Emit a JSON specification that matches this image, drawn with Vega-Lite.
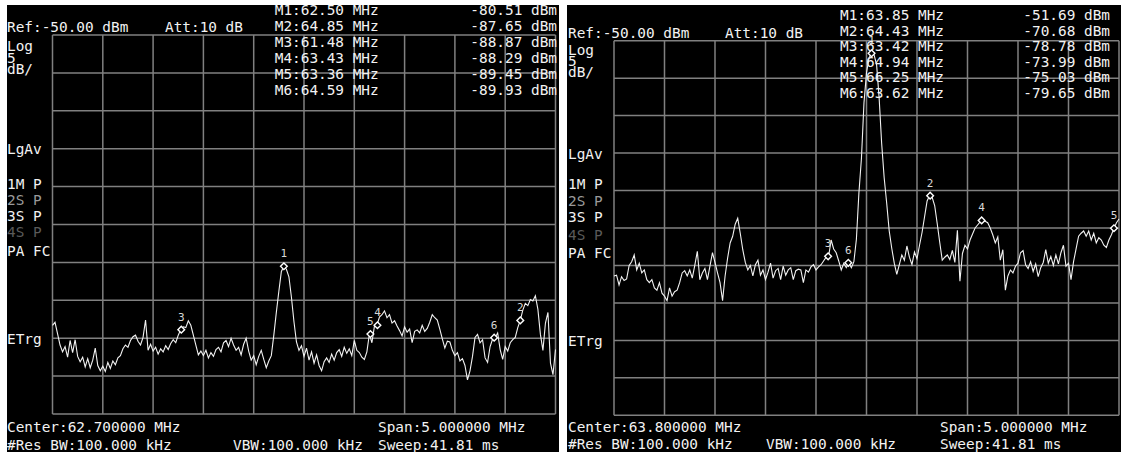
{
  "$schema": "https://vega.github.io/schema/vega-lite/v6.json",
  "background": "white",
  "padding": {"left": 7, "top": 2, "right": 0, "bottom": 0},
  "bounds": "flush",
  "spacing": 8,
  "config": {
    "view": {"stroke": null, "fill": "black"},
    "axis": {"disable": true},
    "text": {"font": "DejaVu Sans Mono", "fontSize": 14.4, "color": "#f2f2f2", "baseline": "middle", "align": "left"}
  },
  "datasets": {
    "gridD": [{"d": -50}, {"d": -55}, {"d": -60}, {"d": -65}, {"d": -70}, {"d": -75}, {"d": -80}, {"d": -85}, {"d": -90}, {"d": -95}, {"d": -100}],
    "leftGridF": [{"f": 60.2}, {"f": 60.7}, {"f": 61.2}, {"f": 61.7}, {"f": 62.2}, {"f": 62.7}, {"f": 63.2}, {"f": 63.7}, {"f": 64.2}, {"f": 64.7}, {"f": 65.2}],
    "rightGridF": [{"f": 61.3}, {"f": 61.8}, {"f": 62.3}, {"f": 62.8}, {"f": 63.3}, {"f": 63.8}, {"f": 64.3}, {"f": 64.8}, {"f": 65.3}, {"f": 65.8}, {"f": 66.3}],
    "leftMarkers": [
      {"id": 1, "f": 62.50, "d": -80.51},
      {"id": 2, "f": 64.85, "d": -87.65},
      {"id": 3, "f": 61.48, "d": -88.87},
      {"id": 4, "f": 63.43, "d": -88.29},
      {"id": 5, "f": 63.36, "d": -89.45},
      {"id": 6, "f": 64.59, "d": -89.93}
    ],
    "rightMarkers": [
      {"id": 1, "f": 63.85, "d": -51.69},
      {"id": 2, "f": 64.43, "d": -70.68},
      {"id": 3, "f": 63.42, "d": -78.78},
      {"id": 4, "f": 64.94, "d": -73.99},
      {"id": 5, "f": 66.25, "d": -75.03},
      {"id": 6, "f": 63.62, "d": -79.65}
    ],
    "leftTrace": [
      {"f":60.2,"d":-88.3},{"f":60.225,"d":-87.9},{"f":60.25,"d":-89.4},{"f":60.275,"d":-90.9},
      {"f":60.3,"d":-91.8},{"f":60.325,"d":-91.1},{"f":60.35,"d":-92.5},{"f":60.375,"d":-90.3},
      {"f":60.4,"d":-91.9},{"f":60.425,"d":-90.2},{"f":60.45,"d":-92.4},{"f":60.475,"d":-93.1},
      {"f":60.5,"d":-92.5},{"f":60.525,"d":-93.8},{"f":60.55,"d":-92.7},{"f":60.575,"d":-93.9},
      {"f":60.6,"d":-92.9},{"f":60.625,"d":-91.3},{"f":60.65,"d":-93.6},{"f":60.675,"d":-94.3},
      {"f":60.7,"d":-93.7},{"f":60.725,"d":-94.4},{"f":60.75,"d":-93.2},{"f":60.775,"d":-94.0},
      {"f":60.8,"d":-93.0},{"f":60.825,"d":-93.5},{"f":60.85,"d":-92.6},{"f":60.875,"d":-92.3},
      {"f":60.9,"d":-91.4},{"f":60.925,"d":-90.9},{"f":60.95,"d":-91.2},{"f":60.975,"d":-90.3},
      {"f":61.0,"d":-89.8},{"f":61.025,"d":-89.6},{"f":61.05,"d":-90.4},{"f":61.075,"d":-90.9},
      {"f":61.1,"d":-89.9},{"f":61.125,"d":-87.6},{"f":61.15,"d":-91.6},{"f":61.175,"d":-90.8},
      {"f":61.2,"d":-91.7},{"f":61.225,"d":-91.2},{"f":61.25,"d":-92.1},{"f":61.275,"d":-91.4},
      {"f":61.3,"d":-91.8},{"f":61.325,"d":-91.0},{"f":61.35,"d":-91.5},{"f":61.375,"d":-90.7},
      {"f":61.4,"d":-90.2},{"f":61.425,"d":-90.6},{"f":61.45,"d":-89.6},{"f":61.475,"d":-88.87},
      {"f":61.5,"d":-88.5},{"f":61.525,"d":-88.6},{"f":61.55,"d":-87.7},{"f":61.575,"d":-88.3},
      {"f":61.6,"d":-89.6},{"f":61.625,"d":-90.9},{"f":61.65,"d":-92.2},{"f":61.675,"d":-91.7},
      {"f":61.7,"d":-92.3},{"f":61.725,"d":-91.6},{"f":61.75,"d":-92.6},{"f":61.775,"d":-91.9},
      {"f":61.8,"d":-92.4},{"f":61.825,"d":-91.5},{"f":61.85,"d":-91.2},{"f":61.875,"d":-91.8},
      {"f":61.9,"d":-90.6},{"f":61.925,"d":-90.3},{"f":61.95,"d":-91.1},{"f":61.975,"d":-90.0},
      {"f":62.0,"d":-90.9},{"f":62.025,"d":-91.6},{"f":62.05,"d":-91.2},{"f":62.075,"d":-92.2},
      {"f":62.1,"d":-90.8},{"f":62.125,"d":-90.0},{"f":62.15,"d":-91.7},{"f":62.175,"d":-92.9},
      {"f":62.2,"d":-92.3},{"f":62.225,"d":-93.5},{"f":62.25,"d":-92.4},{"f":62.275,"d":-91.6},
      {"f":62.3,"d":-92.8},{"f":62.325,"d":-93.9},{"f":62.35,"d":-93.0},{"f":62.375,"d":-92.3},
      {"f":62.4,"d":-89.6},{"f":62.425,"d":-86.6},{"f":62.45,"d":-83.8},{"f":62.475,"d":-81.2},
      {"f":62.5,"d":-80.51},{"f":62.525,"d":-80.9},{"f":62.55,"d":-81.9},{"f":62.575,"d":-84.6},
      {"f":62.6,"d":-87.8},{"f":62.625,"d":-90.5},{"f":62.65,"d":-91.6},{"f":62.675,"d":-91.0},
      {"f":62.7,"d":-92.4},{"f":62.725,"d":-91.3},{"f":62.75,"d":-92.9},{"f":62.775,"d":-91.8},
      {"f":62.8,"d":-93.3},{"f":62.825,"d":-92.2},{"f":62.85,"d":-93.6},{"f":62.875,"d":-94.3},
      {"f":62.9,"d":-93.1},{"f":62.925,"d":-92.6},{"f":62.95,"d":-93.2},{"f":62.975,"d":-92.1},
      {"f":63.0,"d":-92.9},{"f":63.025,"d":-91.9},{"f":63.05,"d":-91.5},{"f":63.075,"d":-92.4},
      {"f":63.1,"d":-91.2},{"f":63.125,"d":-92.0},{"f":63.15,"d":-91.4},{"f":63.175,"d":-92.3},
      {"f":63.2,"d":-90.3},{"f":63.225,"d":-91.6},{"f":63.25,"d":-91.9},{"f":63.275,"d":-92.5},
      {"f":63.3,"d":-92.8},{"f":63.325,"d":-91.8},{"f":63.35,"d":-89.45},{"f":63.375,"d":-90.6},
      {"f":63.4,"d":-88.4},{"f":63.425,"d":-88.29},{"f":63.45,"d":-87.2},{"f":63.475,"d":-86.9},
      {"f":63.5,"d":-86.4},{"f":63.525,"d":-87.3},{"f":63.55,"d":-86.9},{"f":63.575,"d":-88.0},
      {"f":63.6,"d":-87.7},{"f":63.625,"d":-88.4},{"f":63.65,"d":-89.0},{"f":63.675,"d":-89.7},
      {"f":63.7,"d":-88.5},{"f":63.725,"d":-89.2},{"f":63.75,"d":-88.8},{"f":63.775,"d":-90.6},
      {"f":63.8,"d":-89.1},{"f":63.825,"d":-88.9},{"f":63.85,"d":-89.3},{"f":63.875,"d":-88.3},
      {"f":63.9,"d":-89.1},{"f":63.925,"d":-88.7},{"f":63.95,"d":-87.9},{"f":63.975,"d":-86.9},
      {"f":64.0,"d":-87.3},{"f":64.025,"d":-87.6},{"f":64.05,"d":-88.8},{"f":64.075,"d":-90.1},
      {"f":64.1,"d":-91.3},{"f":64.125,"d":-90.4},{"f":64.15,"d":-90.5},{"f":64.175,"d":-91.6},
      {"f":64.2,"d":-92.3},{"f":64.225,"d":-91.9},{"f":64.25,"d":-93.0},{"f":64.275,"d":-92.7},
      {"f":64.3,"d":-93.6},{"f":64.325,"d":-95.5},{"f":64.35,"d":-94.3},{"f":64.375,"d":-92.4},
      {"f":64.4,"d":-89.9},{"f":64.425,"d":-89.5},{"f":64.45,"d":-90.6},{"f":64.475,"d":-90.2},
      {"f":64.5,"d":-92.6},{"f":64.525,"d":-93.2},{"f":64.55,"d":-91.1},{"f":64.575,"d":-90.1},
      {"f":64.6,"d":-89.93},{"f":64.625,"d":-89.3},{"f":64.65,"d":-91.5},{"f":64.675,"d":-92.8},
      {"f":64.7,"d":-91.1},{"f":64.725,"d":-91.7},{"f":64.75,"d":-90.6},{"f":64.775,"d":-90.2},
      {"f":64.8,"d":-89.9},{"f":64.825,"d":-88.6},{"f":64.85,"d":-87.65},{"f":64.875,"d":-86.3},
      {"f":64.9,"d":-85.4},{"f":64.925,"d":-85.7},{"f":64.95,"d":-84.9},{"f":64.975,"d":-85.1},
      {"f":65.0,"d":-84.4},{"f":65.025,"d":-86.2},{"f":65.05,"d":-89.5},{"f":65.075,"d":-91.6},
      {"f":65.1,"d":-88.0},{"f":65.125,"d":-86.6},{"f":65.15,"d":-93.3},{"f":65.175,"d":-94.8},
      {"f":65.2,"d":-91.5}
    ],
    "rightTrace": [
      {"f":61.3,"d":-81.4},{"f":61.325,"d":-81.3},{"f":61.35,"d":-82.6},{"f":61.375,"d":-81.5},
      {"f":61.4,"d":-82.0},{"f":61.425,"d":-81.8},{"f":61.45,"d":-80.0},{"f":61.475,"d":-79.5},
      {"f":61.5,"d":-78.6},{"f":61.525,"d":-80.6},{"f":61.55,"d":-79.7},{"f":61.575,"d":-81.0},
      {"f":61.6,"d":-80.6},{"f":61.625,"d":-81.9},{"f":61.65,"d":-82.3},{"f":61.675,"d":-81.9},
      {"f":61.7,"d":-83.0},{"f":61.725,"d":-83.3},{"f":61.75,"d":-82.3},{"f":61.775,"d":-83.7},
      {"f":61.8,"d":-84.1},{"f":61.825,"d":-84.7},{"f":61.85,"d":-83.0},{"f":61.875,"d":-84.1},
      {"f":61.9,"d":-83.5},{"f":61.925,"d":-83.3},{"f":61.95,"d":-82.3},{"f":61.975,"d":-81.0},
      {"f":62.0,"d":-80.7},{"f":62.025,"d":-81.4},{"f":62.05,"d":-80.6},{"f":62.075,"d":-81.7},
      {"f":62.1,"d":-80.0},{"f":62.125,"d":-78.1},{"f":62.15,"d":-81.9},{"f":62.175,"d":-81.0},
      {"f":62.2,"d":-80.4},{"f":62.225,"d":-81.9},{"f":62.25,"d":-80.1},{"f":62.275,"d":-78.3},
      {"f":62.3,"d":-79.6},{"f":62.325,"d":-81.0},{"f":62.35,"d":-82.3},{"f":62.375,"d":-84.7},
      {"f":62.4,"d":-81.4},{"f":62.425,"d":-79.0},{"f":62.45,"d":-77.0},{"f":62.475,"d":-76.1},
      {"f":62.5,"d":-74.5},{"f":62.525,"d":-73.7},{"f":62.55,"d":-75.7},{"f":62.575,"d":-77.9},
      {"f":62.6,"d":-79.6},{"f":62.625,"d":-80.6},{"f":62.65,"d":-80.0},{"f":62.675,"d":-81.4},
      {"f":62.7,"d":-79.9},{"f":62.725,"d":-79.3},{"f":62.75,"d":-81.3},{"f":62.775,"d":-80.6},
      {"f":62.8,"d":-81.9},{"f":62.825,"d":-80.9},{"f":62.85,"d":-79.7},{"f":62.875,"d":-81.7},
      {"f":62.9,"d":-80.7},{"f":62.925,"d":-80.4},{"f":62.95,"d":-81.9},{"f":62.975,"d":-80.1},
      {"f":63.0,"d":-81.3},{"f":63.025,"d":-80.6},{"f":63.05,"d":-80.3},{"f":63.075,"d":-81.9},
      {"f":63.1,"d":-80.7},{"f":63.125,"d":-80.5},{"f":63.15,"d":-80.6},{"f":63.175,"d":-82.3},
      {"f":63.2,"d":-80.6},{"f":63.225,"d":-80.9},{"f":63.25,"d":-80.2},{"f":63.275,"d":-79.9},
      {"f":63.3,"d":-80.6},{"f":63.325,"d":-80.2},{"f":63.35,"d":-79.9},{"f":63.375,"d":-79.4},
      {"f":63.4,"d":-78.9},{"f":63.425,"d":-78.78},{"f":63.45,"d":-76.6},{"f":63.475,"d":-77.8},
      {"f":63.5,"d":-78.3},{"f":63.525,"d":-79.4},{"f":63.55,"d":-80.6},{"f":63.575,"d":-79.7},
      {"f":63.6,"d":-80.3},{"f":63.625,"d":-79.65},{"f":63.65,"d":-80.3},{"f":63.675,"d":-79.5},
      {"f":63.7,"d":-76.5},{"f":63.725,"d":-70.3},{"f":63.75,"d":-65.7},{"f":63.775,"d":-58.3},
      {"f":63.8,"d":-54.3},{"f":63.825,"d":-52.3},{"f":63.85,"d":-51.69},{"f":63.875,"d":-51.9},
      {"f":63.9,"d":-53.2},{"f":63.925,"d":-57.6},{"f":63.95,"d":-63.7},{"f":63.975,"d":-68.3},
      {"f":64.0,"d":-71.7},{"f":64.025,"d":-75.4},{"f":64.05,"d":-77.7},{"f":64.075,"d":-79.7},
      {"f":64.1,"d":-81.2},{"f":64.125,"d":-79.9},{"f":64.15,"d":-78.6},{"f":64.175,"d":-79.3},
      {"f":64.2,"d":-77.4},{"f":64.225,"d":-78.9},{"f":64.25,"d":-79.9},{"f":64.275,"d":-78.2},
      {"f":64.3,"d":-79.1},{"f":64.325,"d":-77.3},{"f":64.35,"d":-75.6},{"f":64.375,"d":-73.5},
      {"f":64.4,"d":-71.4},{"f":64.425,"d":-70.68},{"f":64.45,"d":-70.9},{"f":64.475,"d":-72.0},
      {"f":64.5,"d":-74.4},{"f":64.525,"d":-76.9},{"f":64.55,"d":-79.3},{"f":64.575,"d":-78.9},
      {"f":64.6,"d":-78.6},{"f":64.625,"d":-79.2},{"f":64.65,"d":-78.0},{"f":64.675,"d":-79.6},
      {"f":64.7,"d":-75.3},{"f":64.725,"d":-82.1},{"f":64.75,"d":-78.4},{"f":64.775,"d":-77.3},
      {"f":64.8,"d":-77.8},{"f":64.825,"d":-76.6},{"f":64.85,"d":-75.8},{"f":64.875,"d":-75.0},
      {"f":64.9,"d":-74.6},{"f":64.925,"d":-74.2},{"f":64.95,"d":-73.99},{"f":64.975,"d":-74.1},
      {"f":65.0,"d":-74.3},{"f":65.025,"d":-75.0},{"f":65.05,"d":-75.9},{"f":65.075,"d":-77.0},
      {"f":65.1,"d":-76.2},{"f":65.125,"d":-79.3},{"f":65.15,"d":-77.9},{"f":65.175,"d":-83.3},
      {"f":65.2,"d":-81.4},{"f":65.225,"d":-80.6},{"f":65.25,"d":-81.0},{"f":65.275,"d":-80.1},
      {"f":65.3,"d":-79.7},{"f":65.325,"d":-78.3},{"f":65.35,"d":-78.0},{"f":65.375,"d":-79.9},
      {"f":65.4,"d":-80.4},{"f":65.425,"d":-79.5},{"f":65.45,"d":-80.8},{"f":65.475,"d":-79.8},
      {"f":65.5,"d":-81.5},{"f":65.525,"d":-80.3},{"f":65.55,"d":-79.6},{"f":65.575,"d":-77.9},
      {"f":65.6,"d":-79.7},{"f":65.625,"d":-78.8},{"f":65.65,"d":-80.0},{"f":65.675,"d":-78.6},
      {"f":65.7,"d":-79.8},{"f":65.725,"d":-78.3},{"f":65.75,"d":-77.3},{"f":65.775,"d":-80.1},
      {"f":65.8,"d":-79.7},{"f":65.825,"d":-81.9},{"f":65.85,"d":-79.5},{"f":65.875,"d":-77.8},
      {"f":65.9,"d":-76.1},{"f":65.925,"d":-75.7},{"f":65.95,"d":-75.4},{"f":65.975,"d":-76.1},
      {"f":66.0,"d":-75.4},{"f":66.025,"d":-76.6},{"f":66.05,"d":-75.7},{"f":66.075,"d":-77.0},
      {"f":66.1,"d":-76.3},{"f":66.125,"d":-76.6},{"f":66.15,"d":-77.3},{"f":66.175,"d":-77.6},
      {"f":66.2,"d":-76.6},{"f":66.225,"d":-75.9},{"f":66.25,"d":-75.03},{"f":66.275,"d":-74.3},
      {"f":66.3,"d":-73.8}
    ]
  },
  "hconcat": [
    {
      "width": 552,
      "height": 450,
      "view": {"fill": "black", "stroke": null},
      "resolve": {"scale": {"y": "independent"}},
      "layer": [
        {
          "data": {"values": [{}]},
          "layer": [
            {
              "data": {"name": "leftGridF"},
              "mark": {"type": "rule", "color": "#808080", "strokeWidth": 1.5},
              "encoding": {
                "x": {"field": "f", "type": "quantitative", "scale": {"domain": [59.7477, 65.2348], "nice": false, "zero": false}, "axis": null},
                "y": {"datum": -50, "type": "quantitative", "scale": {"domain": [-105.41, -46.04], "nice": false, "zero": false}, "axis": null},
                "y2": {"datum": -100}
              }
            },
            {
              "data": {"name": "gridD"},
              "mark": {"type": "rule", "color": "#808080", "strokeWidth": 1.5},
              "encoding": {
                "y": {"field": "d", "type": "quantitative"},
                "x": {"datum": 60.2},
                "x2": {"datum": 65.2}
              }
            },
            {
              "data": {"name": "leftTrace"},
              "mark": {"type": "line", "color": "#f2f2f2", "strokeWidth": 1.1},
              "encoding": {
                "x": {"field": "f", "type": "quantitative"},
                "y": {"field": "d", "type": "quantitative"}
              }
            },
            {
              "data": {"name": "leftMarkers"},
              "mark": {"type": "point", "shape": "diamond", "size": 45, "filled": true, "fill": "black", "stroke": "#ffffff", "strokeWidth": 1.4, "opacity": 1},
              "encoding": {
                "x": {"field": "f", "type": "quantitative"},
                "y": {"field": "d", "type": "quantitative"}
              }
            },
            {
              "data": {"name": "leftMarkers"},
              "mark": {"type": "text", "fontSize": 11, "align": "center", "dy": -12, "color": "#d8d8d8"},
              "encoding": {
                "x": {"field": "f", "type": "quantitative"},
                "y": {"field": "d", "type": "quantitative"},
                "text": {"field": "id", "type": "nominal"}
              }
            },
            {"mark": {"type": "text", "text": "Ref:-50.00 dBm"}, "encoding": {"x": {"datum": 59.748}, "y": {"datum": -49.08}}},
            {"mark": {"type": "text", "text": "Att:10 dB"}, "encoding": {"x": {"datum": 61.318}, "y": {"datum": -49.08}}},
            {"mark": {"type": "text", "text": "Log"}, "encoding": {"x": {"datum": 59.748}, "y": {"datum": -51.58}}},
            {"mark": {"type": "text", "text": "5"}, "encoding": {"x": {"datum": 59.748}, "y": {"datum": -53.1}}},
            {"mark": {"type": "text", "text": "dB/"}, "encoding": {"x": {"datum": 59.748}, "y": {"datum": -54.55}}},
            {"mark": {"type": "text", "text": "LgAv"}, "encoding": {"x": {"datum": 59.748}, "y": {"datum": -65.17}}},
            {"mark": {"type": "text", "text": "1M P"}, "encoding": {"x": {"datum": 59.748}, "y": {"datum": -69.79}}},
            {"mark": {"type": "text", "text": "2S P", "color": "#9a9a9a"}, "encoding": {"x": {"datum": 59.748}, "y": {"datum": -71.9}}},
            {"mark": {"type": "text", "text": "3S P"}, "encoding": {"x": {"datum": 59.748}, "y": {"datum": -74.01}}},
            {"mark": {"type": "text", "text": "4S P", "color": "#5a5a5a"}, "encoding": {"x": {"datum": 59.748}, "y": {"datum": -76.06}}},
            {"mark": {"type": "text", "text": "PA FC"}, "encoding": {"x": {"datum": 59.748}, "y": {"datum": -78.69}}},
            {"mark": {"type": "text", "text": "ETrg"}, "encoding": {"x": {"datum": 59.748}, "y": {"datum": -90.24}}},
            {"mark": {"type": "text", "text": "Center:62.700000 MHz"}, "encoding": {"x": {"datum": 59.748}, "y": {"datum": -101.85}}},
            {"mark": {"type": "text", "text": "#Res BW:100.000 kHz"}, "encoding": {"x": {"datum": 59.748}, "y": {"datum": -104.22}}},
            {"mark": {"type": "text", "text": "VBW:100.000 kHz"}, "encoding": {"x": {"datum": 61.994}, "y": {"datum": -104.22}}},
            {"mark": {"type": "text", "text": "Span:5.000000 MHz"}, "encoding": {"x": {"datum": 63.436}, "y": {"datum": -101.85}}},
            {"mark": {"type": "text", "text": "Sweep:41.81 ms"}, "encoding": {"x": {"datum": 63.436}, "y": {"datum": -104.22}}}
          ]
        },
        {
          "data": {"name": "leftMarkers"},
          "transform": [
            {"calculate": "'M' + datum.id + ':' + format(datum.f, '.2f') + ' MHz'", "as": "fLabel"},
            {"calculate": "'-' + format(-datum.d, '.2f') + ' dBm'", "as": "dLabel"}
          ],
          "encoding": {
            "y": {"field": "id", "type": "quantitative", "scale": {"domain": [0.645, 28.665], "reverse": true, "nice": false, "zero": false}, "axis": null}
          },
          "layer": [
            {"mark": {"type": "text"}, "encoding": {"x": {"datum": 62.409}, "text": {"field": "fLabel"}}},
            {"mark": {"type": "text", "align": "right"}, "encoding": {"x": {"datum": 65.215}, "text": {"field": "dLabel"}}}
          ]
        }
      ]
    },
    {
      "width": 554,
      "height": 450,
      "view": {"fill": "black", "stroke": null},
      "resolve": {"scale": {"y": "independent"}},
      "layer": [
        {
          "data": {"values": [{}]},
          "layer": [
            {
              "data": {"name": "rightGridF"},
              "mark": {"type": "rule", "color": "#808080", "strokeWidth": 1.5},
              "encoding": {
                "x": {"field": "f", "type": "quantitative", "scale": {"domain": [60.8347, 66.3198], "nice": false, "zero": false}, "axis": null},
                "y": {"datum": -50, "type": "quantitative", "scale": {"domain": [-105.299, -45.235], "nice": false, "zero": false}, "axis": null},
                "y2": {"datum": -100}
              }
            },
            {
              "data": {"name": "gridD"},
              "mark": {"type": "rule", "color": "#808080", "strokeWidth": 1.5},
              "encoding": {
                "y": {"field": "d", "type": "quantitative"},
                "x": {"datum": 61.3},
                "x2": {"datum": 66.3}
              }
            },
            {
              "data": {"name": "rightTrace"},
              "mark": {"type": "line", "color": "#f2f2f2", "strokeWidth": 1.1},
              "encoding": {
                "x": {"field": "f", "type": "quantitative"},
                "y": {"field": "d", "type": "quantitative"}
              }
            },
            {
              "data": {"name": "rightMarkers"},
              "mark": {"type": "point", "shape": "diamond", "size": 45, "filled": true, "fill": "black", "stroke": "#ffffff", "strokeWidth": 1.4, "opacity": 1},
              "encoding": {
                "x": {"field": "f", "type": "quantitative"},
                "y": {"field": "d", "type": "quantitative"}
              }
            },
            {
              "data": {"name": "rightMarkers"},
              "mark": {"type": "text", "fontSize": 11, "align": "center", "dy": -12, "color": "#d8d8d8"},
              "encoding": {
                "x": {"field": "f", "type": "quantitative"},
                "y": {"field": "d", "type": "quantitative"},
                "text": {"field": "id", "type": "nominal"}
              }
            },
            {"mark": {"type": "text", "text": "Ref:-50.00 dBm"}, "encoding": {"x": {"datum": 60.845}, "y": {"datum": -49.1}}},
            {"mark": {"type": "text", "text": "Att:10 dB"}, "encoding": {"x": {"datum": 62.399}, "y": {"datum": -49.1}}},
            {"mark": {"type": "text", "text": "Log"}, "encoding": {"x": {"datum": 60.845}, "y": {"datum": -51.41}}},
            {"mark": {"type": "text", "text": "5"}, "encoding": {"x": {"datum": 60.845}, "y": {"datum": -52.88}}},
            {"mark": {"type": "text", "text": "dB/"}, "encoding": {"x": {"datum": 60.845}, "y": {"datum": -54.31}}},
            {"mark": {"type": "text", "text": "LgAv"}, "encoding": {"x": {"datum": 60.845}, "y": {"datum": -65.22}}},
            {"mark": {"type": "text", "text": "1M P"}, "encoding": {"x": {"datum": 60.845}, "y": {"datum": -69.26}}},
            {"mark": {"type": "text", "text": "2S P", "color": "#9a9a9a"}, "encoding": {"x": {"datum": 60.845}, "y": {"datum": -71.53}}},
            {"mark": {"type": "text", "text": "3S P"}, "encoding": {"x": {"datum": 60.845}, "y": {"datum": -73.66}}},
            {"mark": {"type": "text", "text": "4S P", "color": "#5a5a5a"}, "encoding": {"x": {"datum": 60.845}, "y": {"datum": -76.07}}},
            {"mark": {"type": "text", "text": "PA FC"}, "encoding": {"x": {"datum": 60.845}, "y": {"datum": -78.47}}},
            {"mark": {"type": "text", "text": "ETrg"}, "encoding": {"x": {"datum": 60.845}, "y": {"datum": -90.22}}},
            {"mark": {"type": "text", "text": "Center:63.800000 MHz"}, "encoding": {"x": {"datum": 60.845}, "y": {"datum": -101.7}}},
            {"mark": {"type": "text", "text": "#Res BW:100.000 kHz"}, "encoding": {"x": {"datum": 60.845}, "y": {"datum": -103.97}}},
            {"mark": {"type": "text", "text": "VBW:100.000 kHz"}, "encoding": {"x": {"datum": 62.805}, "y": {"datum": -103.97}}},
            {"mark": {"type": "text", "text": "Span:5.000000 MHz"}, "encoding": {"x": {"datum": 64.528}, "y": {"datum": -101.7}}},
            {"mark": {"type": "text", "text": "Sweep:41.81 ms"}, "encoding": {"x": {"datum": 64.528}, "y": {"datum": -103.97}}}
          ]
        },
        {
          "data": {"name": "rightMarkers"},
          "transform": [
            {"calculate": "'M' + datum.id + ':' + format(datum.f, '.2f') + ' MHz'", "as": "fLabel"},
            {"calculate": "'-' + format(-datum.d, '.2f') + ' dBm'", "as": "dLabel"}
          ],
          "encoding": {
            "y": {"field": "id", "type": "quantitative", "scale": {"domain": [0.273, 29.23], "reverse": true, "nice": false, "zero": false}, "axis": null}
          },
          "layer": [
            {"mark": {"type": "text"}, "encoding": {"x": {"datum": 63.538}, "text": {"field": "fLabel"}}},
            {"mark": {"type": "text", "align": "right"}, "encoding": {"x": {"datum": 66.211}, "text": {"field": "dLabel"}}}
          ]
        }
      ]
    }
  ]
}
